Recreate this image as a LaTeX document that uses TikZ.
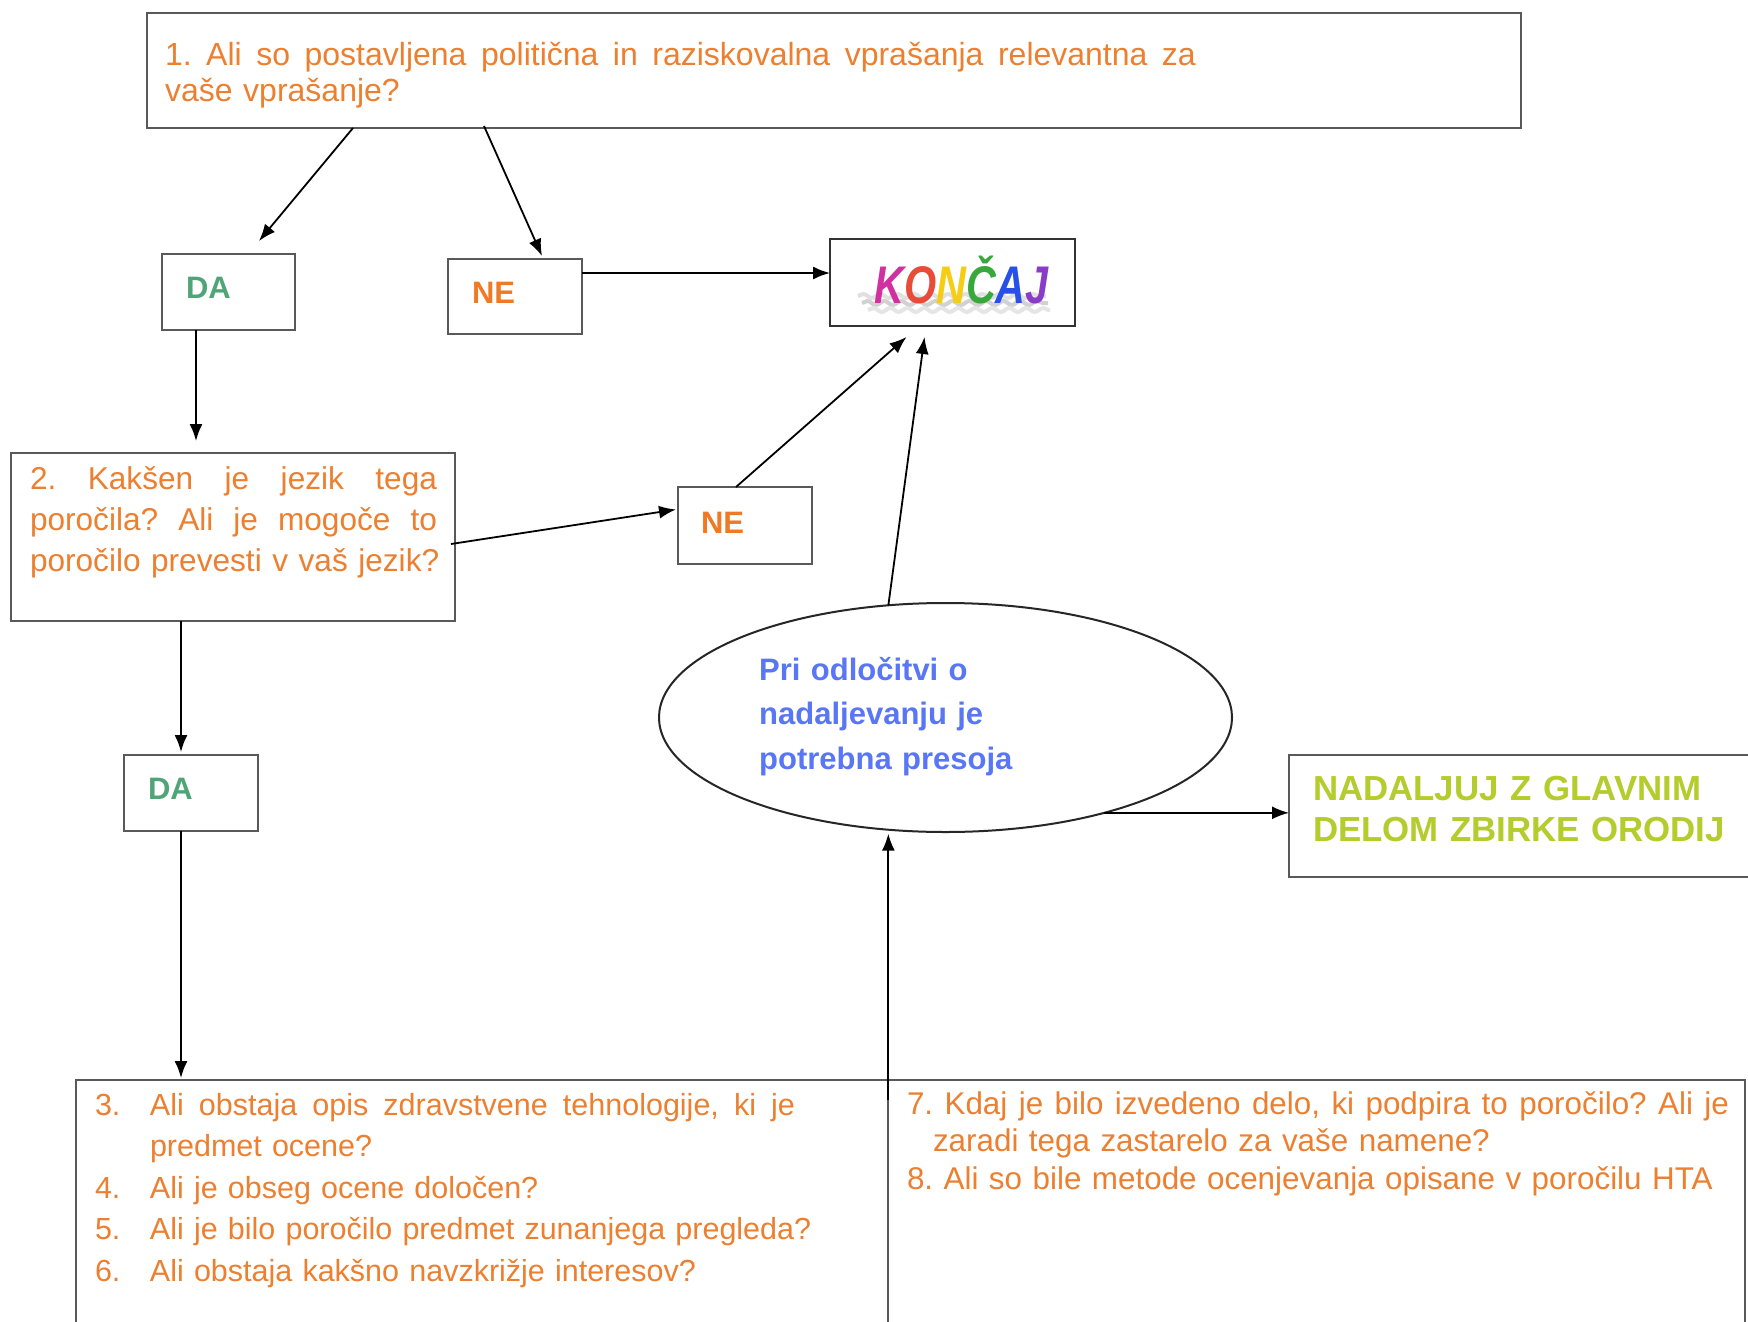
\documentclass[tikz,border=0pt]{standalone}
\usepackage{fontspec}
\setmainfont{Liberation Sans}
\usetikzlibrary{arrows.meta,calc,shapes.geometric,decorations.pathmorphing}

\definecolor{qorange}{RGB}{236,128,48}
\definecolor{neorange}{RGB}{240,122,36}
\definecolor{dagreen}{RGB}{80,165,120}
\definecolor{judgeblue}{RGB}{88,118,245}
\definecolor{golime}{RGB}{180,204,44}
\definecolor{kK}{RGB}{208,48,160}
\definecolor{kO}{RGB}{232,76,56}
\definecolor{kN}{RGB}{245,205,20}
\definecolor{kC}{RGB}{56,168,60}
\definecolor{kA}{RGB}{40,80,232}
\definecolor{kJ}{RGB}{138,60,200}

% a line of text spread to a given width (word spaces stretch)
\newcommand\jline[2]{\leavevmode\hbox to #1{\spaceskip=0pt\relax\xspaceskip=0pt\relax #2}}

\begin{document}
\frenchspacing
\begin{tikzpicture}[x=1pt,y=-1pt,
  box/.style={draw=black!65, line width=2.6pt, rectangle, inner sep=0pt, outer sep=0pt},
  arr/.style={draw=black, line width=1.8pt, -{Latex[length=17pt,width=13pt]}},
  qtext/.style={anchor=base west, inner sep=0pt, outer sep=0pt, text=qorange, align=left},
  tag/.style={anchor=base west, inner sep=0pt, outer sep=0pt,
    font=\bfseries\fontsize{31}{36}\selectfont},
  shade line/.style={line width=4pt, decorate,
    decoration={snake, amplitude=2pt, segment length=17pt}},
]
\useasboundingbox (0,0) rectangle (1748,1322);
\fill[white] (0,0) rectangle (1748,1322);
\clip (0,0) rectangle (1748,1322);

% boxes
\node[box, minimum width=1374pt, minimum height=115pt] (q1) at (834,70.5) {};
\node[box, minimum width=133pt, minimum height=76pt] (da1) at (228.5,292) {};
\node[box, minimum width=134pt, minimum height=75pt] (ne1) at (515,296.5) {};
\node[box, draw=black!80, minimum width=245pt, minimum height=87pt] (konc) at (952.5,282.5) {};
\node[box, minimum width=444pt, minimum height=168pt] (q2) at (233,537) {};
\node[box, minimum width=134pt, minimum height=77pt] (ne2) at (745,525.5) {};
\node[draw=black!85, line width=2pt, ellipse, inner sep=0pt, outer sep=0pt,
      minimum width=573pt, minimum height=229pt] (ell) at (945.5,717.5) {};
\node[box, minimum width=501pt, minimum height=122pt] (nad) at (1539.5,816) {};
\node[box, minimum width=134pt, minimum height=76pt] (da2) at (191,793) {};
\node[box, minimum width=812pt, minimum height=320pt] (qL) at (482,1240) {};
\node[box, minimum width=857pt, minimum height=320pt] (qR) at (1316.5,1240) {};

% texts
\node[qtext, text width=1100pt, font=\fontsize{32}{36}\selectfont] (t1) at (165,65.5)
  {\jline{1031pt}{1. Ali so postavljena politična in raziskovalna vprašanja relevantna za}\\
   vaše vprašanje?};
\node[qtext, text width=420pt, font=\fontsize{31.6}{41}\selectfont] (t2) at (30,489)
  {\jline{407pt}{2. Kakšen je jezik tega}\\
   \jline{407pt}{poročila? Ali je mogoče to}\\
   poročilo prevesti v vaš jezik?};
\node[tag, text=dagreen] (tda1) at (186,298) {DA};
\node[tag, text=neorange] (tne1) at (472,303) {NE};
\node[tag, text=neorange] (tne2) at (701,533) {NE};
\node[tag, text=dagreen] (tda2) at (148,799) {DA};

% soft wavy shadow under the KONČAJ lettering
\draw[shade line, black!12] (858,296) -- (1046,296);
\draw[shade line, black!18] (862,303) -- (1048,303);
\draw[shade line, black!10] (868,310) -- (1050,310);
\node[anchor=base west, inner sep=0pt, font=\bfseries\itshape\fontsize{53}{56}\selectfont] (tk) at (874,303)
  {\scalebox{0.78}[1]{\textcolor{kK}{K}\textcolor{kO}{O}\textcolor{kN}{N}\textcolor{kC}{Č}\textcolor{kA}{A}\textcolor{kJ}{J}}};

\node[anchor=base west, inner sep=0pt, align=left, text width=400pt, text=judgeblue,
      font=\bfseries\fontsize{31}{44.5}\selectfont] (tell) at (759,680)
  {Pri odločitvi o\\ nadaljevanju je\\ potrebna presoja};
\node[anchor=base west, inner sep=0pt, align=left, text width=460pt, text=golime,
      font=\bfseries\fontsize{34.8}{41}\selectfont] (tnad) at (1313,800)
  {NADALJUJ Z GLAVNIM\\ DELOM ZBIRKE ORODIJ};

\node[qtext, text width=780pt, font=\fontsize{30.5}{41.6}\selectfont] (tL) at (95,1115)
  {\makebox[55pt][l]{3.}\jline{645pt}{Ali obstaja opis zdravstvene tehnologije, ki je}\\
   \hspace*{55pt}predmet ocene?\\
   \makebox[55pt][l]{4.}Ali je obseg ocene določen?\\
   \makebox[55pt][l]{5.}Ali je bilo poročilo predmet zunanjega pregleda?\\
   \makebox[55pt][l]{6.}Ali obstaja kakšno navzkrižje interesov?};
\node[qtext, text width=840pt, font=\fontsize{31.4}{37.5}\selectfont] (tR) at (907,1114)
  {\jline{822pt}{7. Kdaj je bilo izvedeno delo, ki podpira to poročilo? Ali je}\\
   \hspace*{26pt}zaradi tega zastarelo za vaše namene?\\
   8. Ali so bile metode ocenjevanja opisane v poročilu HTA};

% connectors
\coordinate (s1) at ($(q1.south west)+(206,0)$);
\coordinate (e1) at ($(da1.north west)+(97,-13)$);
\draw[arr] (s1) -- (e1);
\coordinate (s2) at ($(q1.south west)+(337,-2)$);
\coordinate (e2) at ($(ne1.north west)+(94,-3)$);
\draw[arr] (s2) -- (e2);
\coordinate (s3) at ($(ne1.north east)+(0,14)$);
\draw[arr] (s3) -- (s3 -| konc.west);
\coordinate (s4) at ($(da1.south west)+(34,0)$);
\draw[arr, shorten >=12pt] (s4) -- (s4 |- q2.north);
\coordinate (s5) at ($(q2.east)+(-4,7)$);
\coordinate (e5) at ($(ne2.west)+(-2,-16)$);
\draw[arr] (s5) -- (e5);
\coordinate (s6) at ($(ne2.north)+(-9,0)$);
\coordinate (e6) at ($(konc.south)+(-46,11)$);
\draw[arr] (s6) -- (e6);
\coordinate (e7) at ($(konc.south)+(-28,11)$);
\draw[arr] (ell.117) -- (e7);
\coordinate (s8) at ($(q2.south west)+(170,0)$);
\draw[arr, shorten >=3pt] (s8) -- (s8 |- da2.north);
\coordinate (s9) at ($(da2.south west)+(57,0)$);
\draw[arr, shorten >=2pt] (s9) -- (s9 |- qL.north);
\coordinate (s10) at ($(ell.243 |- qR.north)+(0,20)$);
\draw[arr, shorten >=4pt] (s10) -- (ell.243);
\draw[arr] (ell.-31) -- (ell.-31 -| nad.west);
\end{tikzpicture}
\end{document}
